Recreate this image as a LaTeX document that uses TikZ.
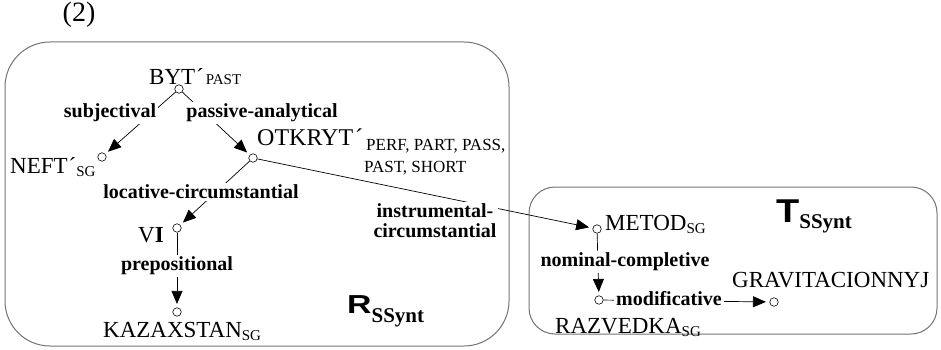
\documentclass[tikz,border=0pt]{standalone}
\usepackage{fontspec}
\setmainfont{Liberation Serif}
\newfontfamily\lsans{Liberation Sans}
\usetikzlibrary{arrows.meta}
\newcommand{\subx}[1]{{\fontsize{15}{15}\selectfont #1}}
\newcommand{\subl}[1]{\raisebox{-3pt}{\fontsize{15}{15}\selectfont #1}}
\begin{document}
\begin{tikzpicture}[x=1pt,y=-1pt,
 word/.style={inner sep=0pt, font=\fontsize{23}{25}\selectfont},
 lab/.style={fill=white, inner sep=1.5pt, font=\bfseries\fontsize{20}{22}\selectfont, align=center},
 dot/.style={circle, draw, line width=0.6pt, inner sep=0pt, minimum size=8.5pt},
 edge/.style={line width=0.7pt},
 arr/.style={edge, -{Triangle[length=13pt,width=11pt]}, shorten >=3.5pt},
 box/.style={draw=black!55, line width=1pt}]
\useasboundingbox (0,0) rectangle (941,350);
% boxes
\draw[box, rounded corners=45pt] (5,42) rectangle (509,346);
\draw[box, rounded corners=26pt] (529,187) rectangle (937,334);
% dots
\node[dot] (byt) at (179,89) {};
\node[dot] (neft) at (102,157) {};
\node[dot] (otk) at (253,158) {};
\node[dot] (vi) at (177,228) {};
\node[dot] (kaz) at (177,312) {};
\node[dot] (met) at (597,229) {};
\node[dot] (raz) at (599,300) {};
\node[dot] (grav) at (774,302) {};
% edges
\draw[arr] (byt) -- (neft);
\draw[arr] (byt) -- (otk);
\draw[arr] (otk) -- (vi);
\draw[arr] (vi) -- (kaz);
\draw[arr] (otk) -- (met);
\draw[arr] (met) -- (raz);
\draw[arr] (raz) -- (grav);
% labels
\node[lab] (l1) at (110,113) {subjectival};
\node[lab] (l2) at (262,113) {passive-analytical};
\node[lab] (l3) at (201,192) {locative-circumstantial};
\node[lab] (l4) at (177,266) {prepositional};
\node[lab] (l5) at (435,221) {instrumental-\\[-2pt]circumstantial};
\node[lab] (l6) at (625,262) {nominal-completive};
\node[lab, inner xsep=2.5pt] (l7) at (669,299) {modificative};
% words
\node[font=\fontsize{28}{30}\selectfont, inner sep=0pt] (num) at (79,15) {(2)};
\node[word, anchor=base west] (tbyt) at (149,85) {BYT\kern1pt´\kern2pt\subx{PAST}};
\node[word, anchor=base west] (tneft) at (10,173) {NEFT\kern1pt´\subl{SG}};
\node[word, anchor=base west, font=\fontsize{24}{26}\selectfont] (totk) at (257,145) {OTKRYT\kern2pt´};
\node[word, anchor=base west, font=\fontsize{17}{17}\selectfont] (totk2) at (366,150) {PERF, PART, PASS,};
\node[word, anchor=base west, font=\fontsize{17}{17}\selectfont] (totk3) at (364,172) {PAST, SHORT};
\node[word, anchor=base east] (tvi) at (164,242) {V\textbf{I}};
\node[word, anchor=base west] (tkaz) at (103,337) {KAZAXSTAN\subl{SG}};
\node[word, anchor=base west] (tmet) at (605,230) {METOD\subl{SG}};
\node[word, anchor=base west] (traz) at (555,333) {RAZVEDKA\subl{SG}};
\node[word, anchor=base west] (tgrav) at (732,287) {GRAVITACIONNYJ};
\node[word, anchor=base west] (rs) at (347,313) {\scalebox{1.3}[1]{\lsans\bfseries\fontsize{26}{26}\selectfont R}\raisebox{-9pt}{\bfseries\fontsize{21}{21}\selectfont SSynt}};
\node[word, anchor=base west] (ts) at (776,222) {\scalebox{1.15}[1]{\lsans\bfseries\fontsize{33}{33}\selectfont T}\raisebox{-6pt}{\bfseries\fontsize{21}{21}\selectfont SSynt}};
\end{tikzpicture}
\end{document}
